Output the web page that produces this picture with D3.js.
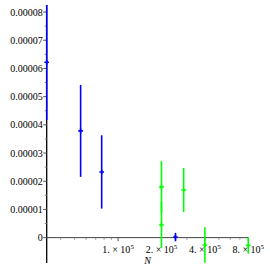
<!DOCTYPE html>
<html>
<head>
<meta charset="utf-8">
<script src="https://cdn.jsdelivr.net/npm/d3@7"></script>
<style>
  body { margin: 0; background: #fff; }
  text { font-family: "Liberation Serif", "DejaVu Serif", serif; }
</style>
</head>
<body>
<div id="chart"></div>
<script>
var svgWidth = 270;
var svgHeight = 270;

// data
var blueN = [32000, 55000, 77000, 250000];
var blueMean = [6.22e-5, 3.785e-5, 2.33e-5, 0.02e-5];
var blueErr = [2.05e-5, 1.63e-5, 1.3e-5, 0.15e-5];

var greenN = [200000, 200000, 285000, 400000, 800000];
var greenMean = [1.80e-5, 0.45e-5, 1.69e-5, -0.26e-5, -0.28e-5];
var greenErr = [0.92e-5, 0.82e-5, 0.78e-5, 0.63e-5, 0.29e-5];

var yTicks = [0, 1e-5, 2e-5, 3e-5, 4e-5, 5e-5, 6e-5, 7e-5, 8e-5];
var yTickLabels = ["0", "0.00001", "0.00002", "0.00003", "0.00004", "0.00005", "0.00006", "0.00007", "0.00008"];
var yMinor = [0.5e-5, 1.5e-5, 2.5e-5, 3.5e-5, 4.5e-5, 5.5e-5, 6.5e-5, 7.5e-5];

var xTicks = [1e5, 2e5, 4e5, 8e5];
var xTickMant = ["1.", "2.", "4.", "8."];
var xMinor = [4e4, 5e4, 6e4, 7e4, 8e4, 9e4, 3e5, 5e5, 6e5, 7e5];

var svg = d3.select("#chart")
    .append("svg")
    .attr("width", svgWidth)
    .attr("height", svgHeight);

var x = d3.scaleLog()
    .domain([32000, 800000])
    .range([46.7, 248.3]);

var y = d3.scaleLinear()
    .domain([-0.9e-5, 8.25e-5])
    .range([263, 5]);

var y0 = y(0);

// y axis
svg.append("line")
    .attr("x1", x(32000)).attr("x2", x(32000))
    .attr("y1", y.range()[0]).attr("y2", y.range()[1])
    .attr("stroke", "#000")
    .attr("stroke-width", 1.3);

svg.selectAll(".ymaj")
    .data(yTicks)
    .enter()
    .append("line")
    .attr("x1", x(32000) - 3.5).attr("x2", x(32000))
    .attr("y1", d => y(d)).attr("y2", d => y(d))
    .attr("stroke", "#555");

svg.selectAll(".ymin")
    .data(yMinor)
    .enter()
    .append("line")
    .attr("x1", x(32000) - 2).attr("x2", x(32000))
    .attr("y1", d => y(d)).attr("y2", d => y(d))
    .attr("stroke", "#888");

svg.selectAll(".ylab")
    .data(yTicks)
    .enter()
    .append("text")
    .attr("x", x(32000) - 4)
    .attr("y", d => y(d))
    .attr("dy", "0.35em")
    .attr("text-anchor", "end")
    .attr("font-size", 10)
    .text((d, i) => yTickLabels[i]);

// x axis along y = 0
svg.append("line")
    .attr("x1", x.range()[0]).attr("x2", x.range()[1])
    .attr("y1", y0).attr("y2", y0)
    .attr("stroke", "#444")
    .attr("stroke-width", 1);

svg.selectAll(".xmaj")
    .data(xTicks)
    .enter()
    .append("line")
    .attr("x1", d => x(d)).attr("x2", d => x(d))
    .attr("y1", y0).attr("y2", y0 + 3.5)
    .attr("stroke", "#555");

svg.selectAll(".xmin")
    .data(xMinor)
    .enter()
    .append("line")
    .attr("x1", d => x(d)).attr("x2", d => x(d))
    .attr("y1", y0).attr("y2", y0 + 2)
    .attr("stroke", "#888");

var xLab = svg.selectAll(".xlab")
    .data(xTicks)
    .enter()
    .append("text")
    .attr("x", d => x(d))
    .attr("y", y0 + 15)
    .attr("text-anchor", "middle")
    .attr("font-size", 10);

xLab.append("tspan").text((d, i) => xTickMant[i] + " \u00d7 10");
xLab.append("tspan")
    .attr("dy", -4)
    .attr("font-size", 7)
    .text("5");

svg.append("text")
    .attr("x", (x.range()[0] + x.range()[1]) / 2)
    .attr("y", y0 + 26)
    .attr("text-anchor", "middle")
    .attr("font-size", 10)
    .attr("font-style", "italic")
    .text("N");

// error bars
function drawBars(ns, means, errs, color) {
    var g = svg.append("g");
    var rows = ns.map((n, i) => ({n: n, m: means[i], e: errs[i]}));

    g.selectAll("line")
        .data(rows)
        .enter()
        .append("line")
        .attr("x1", d => x(d.n)).attr("x2", d => x(d.n))
        .attr("y1", d => y(d.m - d.e))
        .attr("y2", d => y(Math.min(d.m + d.e, y.domain()[1])))
        .attr("stroke", color)
        .attr("stroke-width", 1.6);

    g.selectAll("path")
        .data(rows)
        .enter()
        .append("path")
        .attr("d", d3.symbol(d3.symbolCross, 12))
        .attr("transform", d => `translate(${x(d.n)}, ${y(d.m)})`)
        .attr("fill", color);
}

drawBars(blueN, blueMean, blueErr, "#0000ff");
drawBars(greenN, greenMean, greenErr, "#00ff00");
</script>
</body>
</html>
